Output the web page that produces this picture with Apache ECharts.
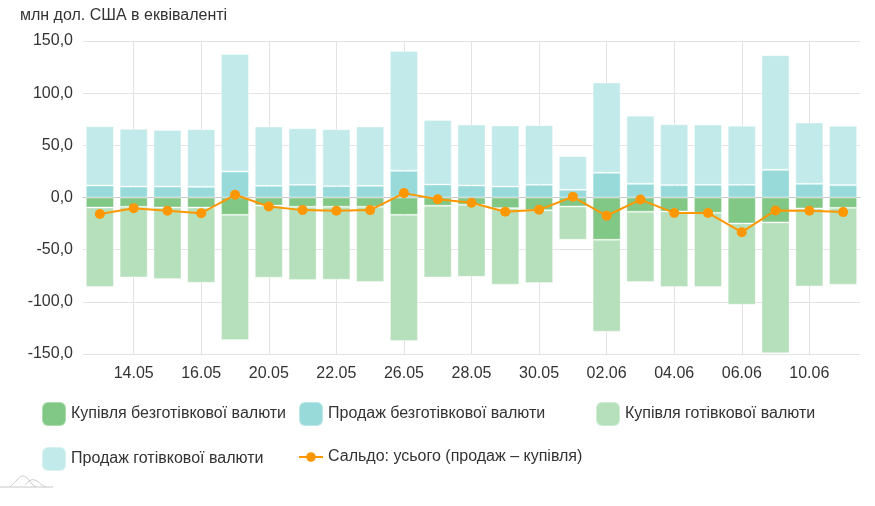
<!DOCTYPE html>
<html>
<head>
<meta charset="utf-8">
<script src="https://cdn.jsdelivr.net/npm/echarts@6/dist/echarts.min.js"></script>
<style>
html,body{margin:0;padding:0;background:#fff;}
#chart{width:875px;height:506px;}
</style>
</head>
<body>
<div id="chart"></div>
<script>
// Dates (working days)
const categories = ['13.05','14.05','15.05','16.05','19.05','20.05','21.05','22.05','23.05','26.05','27.05','28.05','29.05','30.05','31.05','02.06','03.06','04.06','05.06','06.06','09.06','10.06','11.06'];
// Купівля безготівкової валюти (negative)
const buyNonCash = [-9.6,-8.9,-9.6,-9.6,-16.6,-7.7,-8.9,-8.9,-8.9,-16.6,-7.9,-7.0,-10.2,-12.2,-8.6,-40.5,-13.7,-13.4,-14.7,-24.9,-23.9,-10.5,-9.9];
// Продаж безготівкової валюти
const sellNonCash = [11.5,10.5,10.5,10.2,24.9,11.2,12.2,10.9,11.2,25.6,12.5,11.5,10.5,12.2,7.4,23.7,13.1,11.9,12.2,12.2,26.5,13.1,11.9];
// Купівля готівкової валюти (negative)
const buyCash = [-76.2,-67.7,-68.6,-72.1,-120.0,-69.2,-70.2,-69.9,-72.1,-120.9,-68.7,-69.0,-73.4,-69.8,-31.9,-88.1,-67.3,-72.4,-71.1,-77.9,-125.3,-74.7,-73.7];
// Продаж готівкової валюти
const sellCash = [56.9,55.3,54.3,55.3,112.7,56.8,54.2,54.6,56.8,114.9,61.9,58.4,58.5,57.1,32.3,86.5,65.2,58.4,57.7,56.5,109.9,58.7,56.8];
// Сальдо: усього (продаж – купівля)
const saldo = [-15.9,-10.2,-12.7,-15.0,2.6,-8.6,-12.1,-12.7,-12.1,4.2,-1.6,-5.1,-13.7,-11.8,0.7,-17.5,-2.0,-14.8,-14.8,-33.2,-12.4,-12.7,-14.0];

const names = ['Купівля безготівкової валюти','Продаж безготівкової валюти','Купівля готівкової валюти','Продаж готівкової валюти','Сальдо: усього (продаж – купівля)'];
const colors = ['#81c785','#98dada','#b6e0bb','#c3eaea','#ff9800'];

const chart = echarts.init(document.getElementById('chart'), null, {renderer:'canvas'});
const FONT = 'Liberation Sans, Arial, sans-serif';
const txt = {fontFamily: FONT, fontSize: 16, color: '#333'};

function barSeries(i, data){
  return {
    name: names[i], type: 'bar', stack: 'all', data: data,
    barCategoryGap: '17%',
    itemStyle: {color: colors[i], borderColor: 'rgba(255,255,255,0.35)', borderWidth: 1},
    emphasis: {disabled: true}
  };
}
const labelInterval = function(i){ return i % 2 === 1; };
function sqLegend(left, top, list){
  return {orient:'vertical', left: left, top: top, padding: 0, itemWidth: 24, itemHeight: 24, itemGap: 19,
    textStyle: txt, data: list.map(n => ({name: n, icon: 'roundRect'}))};
}

chart.setOption({
  animation: false,
  textStyle: {fontFamily: FONT},
  title: {text: 'млн дол. США в еквіваленті', left: 20, top: 8, padding: 0, textStyle: Object.assign({fontWeight:'normal'}, txt)},
  grid: {left: 83, right: 15, top: 41, bottom: 152},
  legend: [
    sqLegend(41, 401, [names[0], names[3]]),
    sqLegend(298, 401, [names[1]]),
    sqLegend(595, 401, [names[2]]),
    {left: 298, top: 449, padding: 0, itemWidth: 24, itemHeight: 12, textStyle: txt, data: [names[4]]}
  ],
  xAxis: {
    type: 'category', data: categories,
    axisLine: {onZero: true, lineStyle: {color: '#c8c8c8', width: 1}},
    axisTick: {show: false},
    axisLabel: Object.assign({interval: labelInterval, margin: 12}, txt),
    splitLine: {show: true, interval: labelInterval, alignWithLabel: true, lineStyle: {color: '#e3e3e3', width: 1}}
  },
  yAxis: {
    type: 'value', min: -150, max: 150, interval: 50,
    axisLine: {show: false}, axisTick: {show: false},
    axisLabel: Object.assign({margin: 10, formatter: v => v.toFixed(1).replace('.', ',')}, txt),
    splitLine: {lineStyle: {color: '#e3e3e3', width: 1}}
  },
  series: [
    barSeries(0, buyNonCash),
    barSeries(1, sellNonCash),
    barSeries(2, buyCash),
    barSeries(3, sellCash),
    {name: names[4], type: 'line', data: saldo, z: 5,
     symbol: 'circle', symbolSize: 10,
     lineStyle: {color: colors[4], width: 2},
     itemStyle: {color: colors[4]}, emphasis: {disabled: true}}
  ],
  graphic: [
    {type:'polyline', shape:{points:[[0,487],[53,487]]}, style:{stroke:'#c8c8c8', lineWidth:1, fill:null}},
    {type:'polyline', shape:{points:[[10,487],[17,480],[22,476],[27,478],[33,485],[36,487]], smooth:0.4}, style:{stroke:'#c8c8c8', lineWidth:1, fill:null}},
    {type:'polyline', shape:{points:[[25,485],[31,480],[37,481],[42,485],[46,487]], smooth:0.4}, style:{stroke:'#c8c8c8', lineWidth:1, fill:null}}
  ]
});
</script>
</body>
</html>
